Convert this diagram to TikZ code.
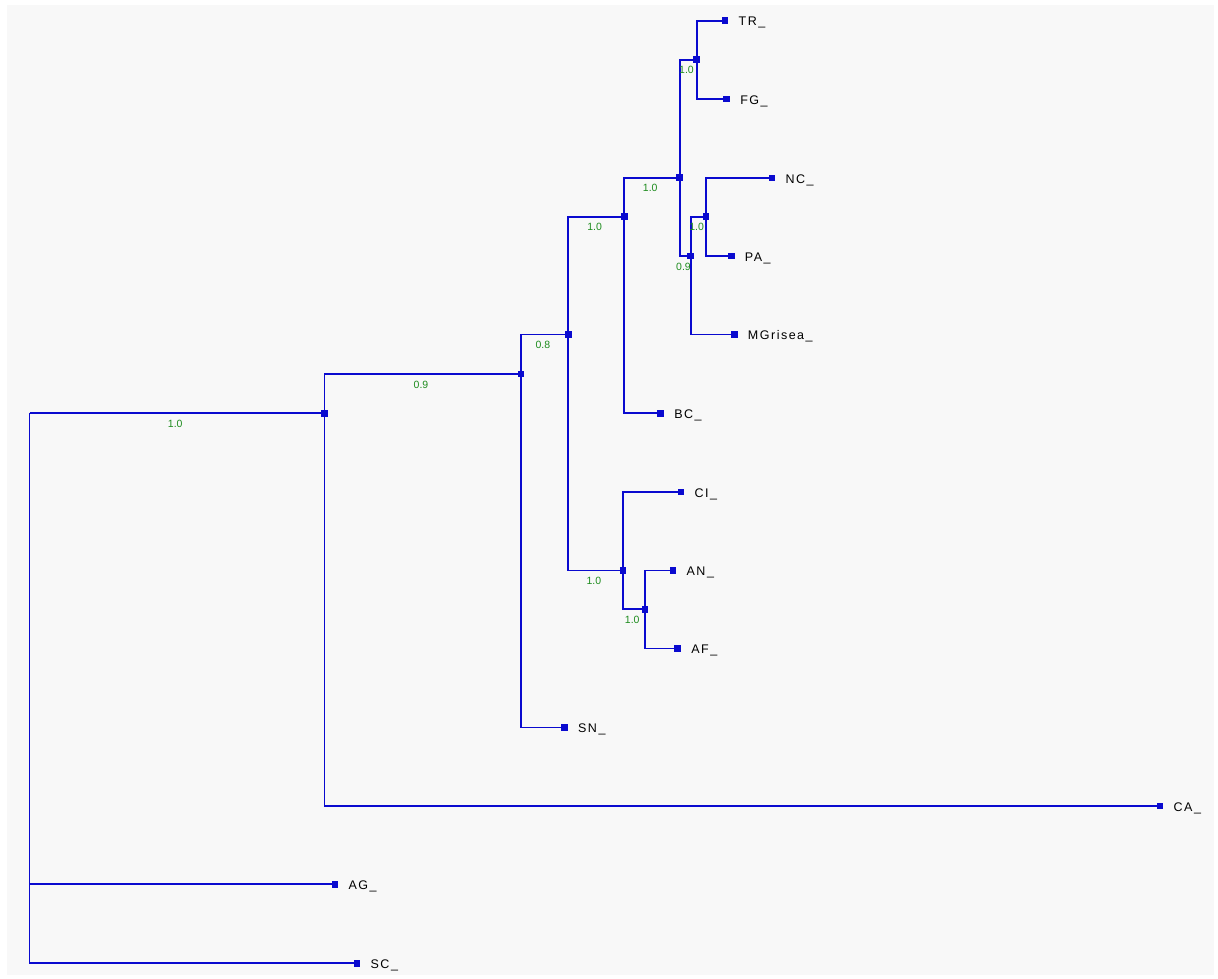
\documentclass[tikz,border=0pt]{standalone}
\usepackage{fontspec}
\setmainfont{Liberation Sans}
\newfontfamily\taxafont[LetterSpace=12]{Liberation Sans}
\usepackage{tikz}
\usetikzlibrary{positioning,backgrounds}
\definecolor{treeblue}{HTML}{0A0ACF}
\definecolor{supgreen}{HTML}{1E8C1E}
\definecolor{panelgray}{HTML}{F8F8F8}

\begin{document}
\begin{tikzpicture}[
  x=1pt,y=-1pt,
  junction/.style={fill=treeblue,inner sep=0pt,minimum size=6.5pt},
  taxon/.style={junction,label={[taxonname]right:#1}},
  taxonname/.style={inner sep=0pt,xshift=10pt,yshift=-2pt,
    font=\taxafont\fontsize{12.5}{14}\selectfont},
  branch/.style={draw=treeblue,line width=1.7pt},
  support/.style={pos=0.75,below=5pt,inner sep=1pt,text=supgreen,
    font=\fontsize{10.5}{12}\selectfont}
]
\useasboundingbox (0,0) rectangle (1218,978);
\fill[panelgray] (7,5) rectangle (1214,975);
\coordinate (root) at (29.5,413.3);
\node[junction] (j1) at (324.5,413.3) {};
\node[junction] (j2) at (521,374) {};
\node[junction] (j3) at (568.3,334.5) {};
\node[junction] (j4) at (624.3,216.7) {};
\node[junction] (j5) at (679.7,177.7) {};
\node[junction] (j6) at (696.7,59.7) {};
\node[junction] (j7) at (690.7,256) {};
\node[junction] (j8) at (706,216.7) {};
\node[junction] (j9) at (623,570.5) {};
\node[junction] (j10) at (645,609.3) {};
\node[taxon=TR\_] (tr) at (725,20.7) {};
\node[taxon=FG\_] (fg) at (726.7,99) {};
\node[taxon=NC\_] (nc) at (772,178) {};
\node[taxon=PA\_] (pa) at (731.3,256) {};
\node[taxon=MGrisea\_] (mg) at (734.3,334.5) {};
\node[taxon=BC\_] (bc) at (660.7,413.3) {};
\node[taxon=CI\_] (ci) at (681,492) {};
\node[taxon=AN\_] (an) at (673,570.5) {};
\node[taxon=AF\_] (af) at (677.7,648.5) {};
\node[taxon=SN\_] (sn) at (564.5,727.5) {};
\node[taxon=CA\_] (ca) at (1160,806) {};
\node[taxon=AG\_] (ag) at (335,884.3) {};
\node[taxon=SC\_] (sc) at (357,963.3) {};
\draw[branch] (root) -- node[support,pos=0.5] {1.0} (j1);
\draw[branch] (root) |- (ag);
\draw[branch] (root) |- (sc);
\draw[branch] (j1) |- node[support] {0.9} (j2);
\draw[branch] (j1) |- (ca);
\draw[branch] (j2) |- node[support] {0.8} (j3);
\draw[branch] (j2) |- (sn);
\draw[branch] (j3) |- node[support] {1.0} (j4);
\draw[branch] (j3) |- node[support] {1.0} (j9);
\draw[branch] (j4) |- node[support] {1.0} (j5);
\draw[branch] (j4) |- (bc);
\draw[branch] (j5) |- node[support] {1.0} (j6);
\draw[branch] (j5) |- node[support] {0.9} (j7);
\draw[branch] (j6) |- (tr);
\draw[branch] (j6) |- (fg);
\draw[branch] (j7) |- node[support] {1.0} (j8);
\draw[branch] (j7) |- (mg);
\draw[branch] (j8) |- (nc);
\draw[branch] (j8) |- (pa);
\draw[branch] (j9) |- (ci);
\draw[branch] (j9) |- node[support] {1.0} (j10);
\draw[branch] (j10) |- (an);
\draw[branch] (j10) |- (af);
\end{tikzpicture}
\end{document}
